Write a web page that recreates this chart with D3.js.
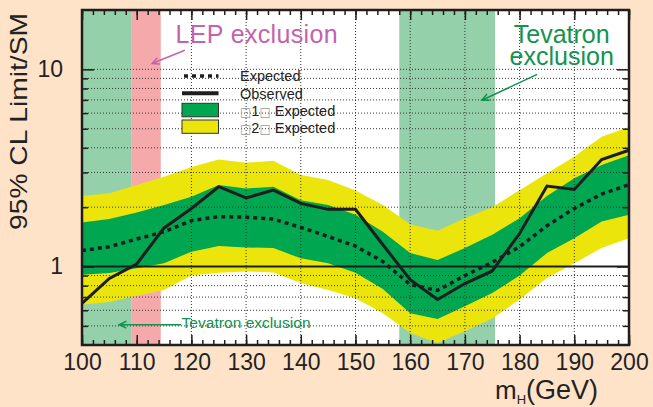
<!DOCTYPE html>
<html>
<head>
<meta charset="utf-8">
<script src="https://cdn.jsdelivr.net/npm/d3@7"></script>
<style>
  html, body { margin: 0; padding: 0; background: #fee3c9; }
  svg { display: block; font-family: "Liberation Sans", Arial, sans-serif; }
</style>
</head>
<body>
<svg id="chart" width="653" height="407"></svg>
<script>
// Higgs mass points (GeV)
const masses = [100, 105, 110, 115, 120, 125, 130, 135, 140, 145, 150,
                155, 160, 165, 170, 175, 180, 185, 190, 195, 200];
// 95% CL limit / SM
const observed = [0.65, 0.87, 1.03, 1.57, 1.97, 2.54, 2.23, 2.44, 2.09, 1.95, 1.95,
                  1.29, 0.857, 0.68, 0.82, 0.95, 1.47, 2.56, 2.46, 3.49, 3.89];
const expected = [1.205, 1.26, 1.38, 1.50, 1.71, 1.79, 1.78, 1.74, 1.58, 1.42, 1.27,
                  1.06, 0.81, 0.757, 0.90, 1.05, 1.26, 1.61, 1.97, 2.33, 2.6];
const sigma1Up = [1.67, 1.74, 1.88, 2.05, 2.26, 2.59, 2.49, 2.54, 2.17, 2.05, 1.83,
                  1.50, 1.17, 1.08, 1.24, 1.45, 1.76, 2.28, 2.8, 3.27, 3.67];
const sigma1Down = [0.908, 0.926, 0.98, 1.04, 1.19, 1.27, 1.25, 1.24, 1.10, 1.04, 0.93,
                    0.77, 0.58, 0.542, 0.628, 0.734, 0.90, 1.17, 1.39, 1.69, 1.83];
const sigma2Up = [2.28, 2.35, 2.59, 2.85, 3.2, 3.49, 3.36, 3.44, 2.91, 2.75, 2.43,
                  2.05, 1.64, 1.52, 1.76, 2.0, 2.44, 2.97, 3.6, 4.55, 5.1];
const sigma2Down = [0.64, 0.66, 0.71, 0.76, 0.90, 0.93, 0.944, 0.933, 0.824, 0.76, 0.69,
                    0.58, 0.46, 0.41, 0.47, 0.545, 0.68, 0.874, 1.04, 1.24, 1.39];

// Excluded mass ranges (GeV)
const tevatronLowRange = [100, 109.1];
const lepRange = [109.1, 114.4];
const tevatronHighRange = [158, 175.5];

// Axis ticks and grid
const xTickLabels = [100, 110, 120, 130, 140, 150, 160, 170, 180, 190, 200];
const xMinorTicks = d3.range(100, 201, 2);
const xGridValues = [120, 130, 140, 150, 160, 170, 180, 190];
const yTickLabels = [1, 10];
const yMinorTicks = [0.5, 0.6, 0.7, 0.8, 0.9, 2, 3, 4, 5, 6, 7, 8, 9];
const yGridValues = [0.5, 0.6, 0.7, 0.8, 0.9, 2, 3, 4, 5, 6, 7, 8, 9, 10];

const colors = {
  page: "#fee3c9", tevatron: "#94d0aa", lep: "#f5a9aa",
  band2: "#ebe50c", band1: "#00a650", line: "#1e1e1e",
  lepText: "#c462ae", tevText: "#13934f"
};

const plotLeft = 82, plotRight = 629, plotTop = 10, plotBottom = 345;
const svg = d3.select("#chart");
const x = d3.scaleLinear().domain([100, 200]).range([plotLeft, plotRight]);
const y = d3.scaleLog().domain([0.4, 20]).range([plotBottom, plotTop]);

// plot background
svg.append("rect").attr("x", plotLeft).attr("y", plotTop)
  .attr("width", plotRight - plotLeft).attr("height", plotBottom - plotTop).attr("fill", "#fff");

// excluded regions
[[tevatronLowRange, colors.tevatron], [lepRange, colors.lep], [tevatronHighRange, colors.tevatron]]
  .forEach(([r, c]) => {
    svg.append("rect").attr("x", x(r[0])).attr("y", plotTop)
      .attr("width", x(r[1]) - x(r[0])).attr("height", plotBottom - plotTop).attr("fill", c);
  });

const pts = masses.map((m, i) => i);
const bandArea = (lo, hi) => d3.area().x(i => x(masses[i])).y0(i => y(lo[i])).y1(i => y(hi[i]));
svg.append("path").attr("d", bandArea(sigma2Down, sigma2Up)(pts)).attr("fill", colors.band2);
svg.append("path").attr("d", bandArea(sigma1Down, sigma1Up)(pts)).attr("fill", colors.band1);

// dotted grid
const grid = svg.append("g").attr("stroke", "#333").attr("stroke-width", 1)
  .attr("stroke-dasharray", "1,2");
grid.selectAll(".h").data(yGridValues).join("line")
  .attr("x1", plotLeft).attr("x2", plotRight).attr("y1", d => y(d)).attr("y2", d => y(d));
grid.selectAll(".v").data(xGridValues).join("line")
  .attr("x1", d => x(d)).attr("x2", d => x(d)).attr("y1", plotTop).attr("y2", plotBottom);

// limit = 1 reference line
svg.append("line").attr("x1", plotLeft).attr("x2", plotRight)
  .attr("y1", y(1)).attr("y2", y(1)).attr("stroke", colors.line).attr("stroke-width", 2);

const line = vals => d3.line().x(i => x(masses[i])).y(i => y(vals[i]))(pts);
svg.append("path").attr("d", line(expected)).attr("fill", "none")
  .attr("stroke", colors.line).attr("stroke-width", 3.5).attr("stroke-dasharray", "4,4");
svg.append("path").attr("d", line(observed)).attr("fill", "none")
  .attr("stroke", colors.line).attr("stroke-width", 3).attr("stroke-linejoin", "miter");

// axes (ticks inside the frame)
function styleAxis(g) {
  g.select(".domain").remove();
  g.selectAll(".tick line").attr("stroke", colors.line).attr("stroke-width", 1.5);
  g.selectAll(".tick text").attr("fill", "#222").attr("font-size", 23)
    .attr("font-family", "Liberation Sans, Arial, sans-serif");
}
svg.append("g").attr("transform", `translate(0,${plotBottom})`)
  .call(d3.axisBottom(x).tickValues(xMinorTicks).tickSize(-5).tickFormat("")).call(styleAxis);
svg.append("g").attr("transform", `translate(0,${plotBottom})`)
  .call(d3.axisBottom(x).tickValues(xTickLabels).tickSize(-10).tickPadding(9).tickFormat(d3.format("d")))
  .call(styleAxis);
svg.append("g").attr("transform", `translate(0,${plotTop})`)
  .call(d3.axisTop(x).tickValues(xMinorTicks).tickSize(-5).tickFormat("")).call(styleAxis);
svg.append("g").attr("transform", `translate(0,${plotTop})`)
  .call(d3.axisTop(x).tickValues(xTickLabels).tickSize(-10).tickFormat("")).call(styleAxis);
svg.append("g").attr("transform", `translate(${plotLeft},0)`)
  .call(d3.axisLeft(y).tickValues(yMinorTicks).tickSize(-6).tickFormat("")).call(styleAxis);
svg.append("g").attr("transform", `translate(${plotLeft},0)`)
  .call(d3.axisLeft(y).tickValues(yTickLabels).tickSize(-12).tickPadding(19).tickFormat(d3.format("d")))
  .call(styleAxis);
svg.append("g").attr("transform", `translate(${plotRight},0)`)
  .call(d3.axisRight(y).tickValues(yMinorTicks).tickSize(-6).tickFormat("")).call(styleAxis);
svg.append("g").attr("transform", `translate(${plotRight},0)`)
  .call(d3.axisRight(y).tickValues(yTickLabels).tickSize(-12).tickFormat("")).call(styleAxis);

// frame
svg.append("rect").attr("x", plotLeft).attr("y", plotTop)
  .attr("width", plotRight - plotLeft).attr("height", plotBottom - plotTop)
  .attr("fill", "none").attr("stroke", colors.line).attr("stroke-width", 2.5);

// axis titles
svg.append("text").attr("transform", "translate(27,121.5) rotate(-90)")
  .attr("text-anchor", "middle").attr("font-size", 24).attr("fill", "#222")
  .attr("textLength", 217).attr("lengthAdjust", "spacingAndGlyphs")
  .text("95% CL Limit/SM");
const xt = svg.append("text").attr("x", 495).attr("y", 399).attr("fill", "#222");
xt.append("tspan").attr("font-size", 26).text("m");
xt.append("tspan").attr("font-size", 13).attr("dy", 5).text("H");
xt.append("tspan").attr("font-size", 27).attr("dy", -5).text("(GeV)");

// annotations
function arrow(x1, y1, x2, y2, color) {
  const a = Math.atan2(y2 - y1, x2 - x1), L = 8, s = 0.45;
  svg.append("path")
    .attr("d", `M${x1},${y1}L${x2},${y2}` +
      `M${x2 - L * Math.cos(a - s)},${y2 - L * Math.sin(a - s)}L${x2},${y2}` +
      `L${x2 - L * Math.cos(a + s)},${y2 - L * Math.sin(a + s)}`)
    .attr("fill", "none").attr("stroke", color).attr("stroke-width", 1.5);
}
svg.append("text").attr("x", x(117.1)).attr("y", y(13.6)).attr("font-size", 25)
  .attr("fill", colors.lepText).attr("textLength", 162).attr("lengthAdjust", "spacing")
  .text("LEP exclusion");
arrow(x(118.8), y(12.5), x(112.8), y(10.7), colors.lepText);

svg.append("text").attr("text-anchor", "middle").attr("font-size", 25)
  .attr("fill", colors.tevText).attr("x", x(187.7)).attr("y", y(13.6)).text("Tevatron");
svg.append("text").attr("text-anchor", "middle").attr("font-size", 25)
  .attr("fill", colors.tevText).attr("x", x(187.7)).attr("y", y(10.5)).text("exclusion");
arrow(x(183.2), y(9.43), x(173.1), y(6.97), colors.tevText);

svg.append("text").attr("x", x(118.2)).attr("y", y(0.487)).attr("font-size", 15.5)
  .attr("fill", colors.tevText).attr("textLength", 129).attr("lengthAdjust", "spacing")
  .text("Tevatron exclusion");
arrow(x(118.1), y(0.507), x(106.8), y(0.507), colors.tevText);

// legend
const lg = svg.append("g").attr("font-size", 14.5).attr("fill", "#222");
const lx = 182, lw = 36.5, tx = 240;
lg.append("line").attr("x1", lx + 2).attr("x2", lx + lw).attr("y1", 76).attr("y2", 76)
  .attr("stroke", colors.line).attr("stroke-width", 3.5).attr("stroke-dasharray", "4,4");
lg.append("line").attr("x1", lx).attr("x2", lx + lw).attr("y1", 93.3).attr("y2", 93.3)
  .attr("stroke", colors.line).attr("stroke-width", 4);
lg.append("rect").attr("x", lx).attr("y", 103.3).attr("width", lw).attr("height", 13.5)
  .attr("fill", colors.band1).attr("stroke", "#333").attr("stroke-width", 1);
lg.append("rect").attr("x", lx).attr("y", 120).attr("width", lw).attr("height", 13.3)
  .attr("fill", colors.band2).attr("stroke", "#333").attr("stroke-width", 1);
lg.append("text").attr("x", tx).attr("y", 80.5).text("Expected");
lg.append("text").attr("x", tx).attr("y", 98.5).text("Observed");
[["1", 116], ["2", 133]].forEach(([n, by]) => {
  const t = lg.append("text").attr("x", tx).attr("y", by);
  t.append("tspan").attr("fill", "#999").attr("font-family", "DejaVu Sans").attr("font-size", 12).text("\u25A1");
  t.append("tspan").text(n);
  t.append("tspan").attr("fill", "#999").attr("font-family", "DejaVu Sans").attr("font-size", 12).text("\u25A1");
  t.append("tspan").text(" Expected");
});
</script>
</body>
</html>
